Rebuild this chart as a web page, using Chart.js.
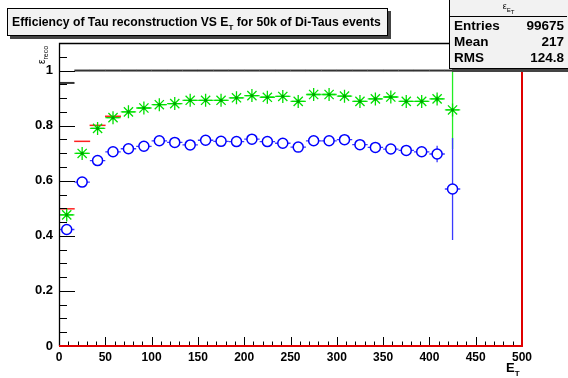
<!DOCTYPE html>
<html><head><meta charset="utf-8">
<script src="https://cdn.jsdelivr.net/npm/chart.js@4.4.1/dist/chart.umd.min.js"></script>
<style>
html,body{margin:0;padding:0;background:#fff;}
#wrap{position:relative;width:568px;height:378px;overflow:hidden;font-family:"Liberation Sans",Arial,sans-serif;color:#000;}
canvas{position:absolute;left:0;top:0;}
.box{position:absolute;border:1px solid #000;background:#f2f2f2;box-shadow:3px 3px 0 #444;box-sizing:border-box;}
#title{left:7px;top:8px;width:381px;height:28px;font-weight:bold;font-size:12.2px;line-height:26px;padding-left:4px;white-space:nowrap;}
#title sub{font-size:8px;vertical-align:-4px;line-height:0;}
#stats{left:449px;top:-1px;width:122px;height:70px;font-weight:bold;font-size:13.5px;}
#stats .hd{position:absolute;left:0;right:3px;top:1px;height:15px;text-align:center;font-size:9px;font-weight:normal;border-bottom:1px solid #000;}
#stats .hd sub{font-size:6px;}
#stats .row{position:absolute;left:4px;right:6px;height:16px;line-height:16px;}
#stats .row span{float:right;}
#ytitle{position:absolute;left:36px;top:64px;transform-origin:0 0;transform:rotate(-90deg);font-size:10px;white-space:nowrap;}
#ytitle sub{font-size:7px;}
#xtitle{position:absolute;left:506px;top:360px;font-size:13px;font-weight:bold;white-space:nowrap;}
#xtitle sub{font-size:8px;}
</style></head>
<body>
<div id="wrap">
<canvas id="c" width="568" height="378"></canvas>
<div class="box" id="title">Efficiency of Tau reconstruction VS E<sub>T</sub> for 50k of Di-Taus events</div>
<div class="box" id="stats">
  <div class="hd">&epsilon;<sub>E<sub>T</sub></sub></div>
  <div class="row" style="top:18px">Entries<span>99675</span></div>
  <div class="row" style="top:34px">Mean<span>217</span></div>
  <div class="row" style="top:50px">RMS<span>124.8</span></div>
</div>
<div id="ytitle">&epsilon;<sub>reco</sub></div>
<div id="xtitle">E<sub>T</sub></div>
</div>
<script>
// bin centres (30 bins of width 16.67 from 0 to 500; first 26 filled)
const binCenters = [8.33,25,41.67,58.33,75,91.67,108.33,125,141.67,158.33,175,191.67,208.33,225,241.67,258.33,275,291.67,308.33,325,341.67,358.33,375,391.67,408.33,425];
const halfBin = 8.33;
const greenVals = [0.476,0.699,0.790,0.829,0.850,0.864,0.876,0.880,0.892,0.892,0.892,0.901,0.909,0.903,0.906,0.888,0.913,0.913,0.907,0.888,0.897,0.904,0.888,0.888,0.897,0.857];
const greenErr  = [0.008,0.006,0.005,0.005,0.005,0.005,0.005,0.005,0.005,0.005,0.005,0.005,0.005,0.005,0.005,0.005,0.006,0.006,0.006,0.006,0.007,0.007,0.008,0.009,0.012,0.142];
const blueVals  = [0.423,0.595,0.673,0.705,0.716,0.725,0.745,0.739,0.730,0.747,0.743,0.742,0.751,0.742,0.736,0.722,0.745,0.745,0.749,0.731,0.721,0.715,0.710,0.705,0.697,0.570];
const blueErr   = [0.010,0.008,0.007,0.007,0.007,0.007,0.007,0.007,0.007,0.007,0.007,0.007,0.007,0.007,0.008,0.008,0.008,0.008,0.009,0.009,0.010,0.011,0.012,0.015,0.030,0.185];
const redVals   = [0.498,0.743,0.801,0.834];
const blackVals = [0.955,1,1,1,1,1,1,1,1,1,1,1,1,1,1,1,1,1,1,1,1,1,1,1,1,1];
const xTickLabels = [0,50,100,150,200,250,300,350,400,450,500];
const yTickLabels = [0,0.2,0.4,0.6,0.8,1];

const pts = vals => vals.map((v,i)=>({x:binCenters[i],y:v}));

const errPlugin = {
  id:'errbars',
  beforeDatasetsDraw(chart){
    const {ctx, scales:{x,y}} = chart;
    const draw = (vals, errs, color) => {
      ctx.save(); ctx.strokeStyle=color; ctx.lineWidth=1.3;
      vals.forEach((v,i)=>{
        const cx = x.getPixelForValue(binCenters[i]);
        const cy = y.getPixelForValue(v);
        ctx.beginPath();
        ctx.moveTo(x.getPixelForValue(binCenters[i]-halfBin), cy);
        ctx.lineTo(x.getPixelForValue(binCenters[i]+halfBin), cy);
        ctx.moveTo(cx, y.getPixelForValue(v-errs[i]));
        ctx.lineTo(cx, y.getPixelForValue(v+errs[i]));
        ctx.stroke();
      });
      ctx.restore();
    };
    draw(greenVals, greenErr, '#22ee22');
    draw(blueVals, blueErr, '#3a3aff');
  },
  afterDatasetsDraw(chart){
    // dark centre dot of the star markers
    const {ctx, scales:{x,y}} = chart;
    ctx.save(); ctx.fillStyle='#00a000';
    greenVals.forEach((v,i)=>{
      ctx.beginPath();
      ctx.arc(x.getPixelForValue(binCenters[i]), y.getPixelForValue(v), 1.6, 0, Math.PI*2);
      ctx.fill();
    });
    ctx.restore();
  }
};

const framePlugin = {
  id:'frame',
  afterDraw(chart){
    const {ctx, chartArea:a, scales:{x,y}} = chart;
    ctx.save();
    ctx.strokeStyle='#000'; ctx.lineWidth=1;
    ctx.beginPath();
    for(let v=0; v<=1.1001; v+=0.05){
      const py = Math.round(y.getPixelForValue(v))+0.5;
      const major = Math.abs(v/0.2 - Math.round(v/0.2))<1e-6;
      ctx.moveTo(a.left, py); ctx.lineTo(a.left + (major?16:8), py);
    }
    for(let v=0; v<=500.01; v+=10){
      const px = Math.round(x.getPixelForValue(v))+0.5;
      const major = v%50===0;
      ctx.moveTo(px, a.bottom); ctx.lineTo(px, a.bottom - (major?9:4.5));
    }
    ctx.stroke();
    ctx.lineWidth=1.3;
    ctx.beginPath();
    ctx.moveTo(a.left+0.5, a.bottom); ctx.lineTo(a.left+0.5, a.top+0.5); ctx.lineTo(a.right, a.top+0.5);
    ctx.stroke();
    ctx.strokeStyle='#e00000'; ctx.lineWidth=2;
    ctx.beginPath();
    ctx.moveTo(a.left, a.bottom); ctx.lineTo(a.right, a.bottom); ctx.lineTo(a.right, a.top);
    ctx.stroke();
    ctx.restore();
  }
};

const tickFont = {family:'"Liberation Sans", Arial, sans-serif', weight:'bold'};

new Chart(document.getElementById('c'), {
  type:'scatter',
  data:{datasets:[
    {label:'blue', data:pts(blueVals), pointStyle:'circle', radius:5, borderColor:'#0000ff', backgroundColor:'#ffffff', borderWidth:1.5, order:1},
    {label:'green', data:pts(greenVals), pointStyle:'star', radius:6.5, borderColor:'#00e000', backgroundColor:'#00e000', borderWidth:1.3, order:2},
    {label:'red', data:pts(redVals), pointStyle:'line', radius:8, borderColor:'#ff2020', borderWidth:1.5, order:3},
    {label:'black', data:pts(blackVals), pointStyle:'line', radius:7.8, borderColor:'#333333', borderWidth:2, order:4}
  ]},
  options:{
    responsive:false, animation:false, events:[],
    layout:{padding:{left:0,right:46,top:43,bottom:0}},
    plugins:{legend:{display:false}, tooltip:{enabled:false}},
    scales:{
      x:{type:'linear', min:0, max:500, afterFit(s){s.height=32;},
         grid:{display:false, drawTicks:false}, border:{display:false},
         afterBuildTicks(s){ s.ticks = xTickLabels.map(v=>({value:v})); },
         ticks:{padding:4, color:'#000', maxRotation:0, autoSkip:false, font:{...tickFont, size:12}, callback:v=>String(v)}},
      y:{type:'linear', min:0, max:1.1, afterFit(s){s.width=59;},
         grid:{display:false, drawTicks:false}, border:{display:false},
         afterBuildTicks(s){ s.ticks = yTickLabels.map(v=>({value:v})); },
         ticks:{padding:6, color:'#000', font:{...tickFont, size:13}, callback:v=>String(v)}}
    }
  },
  plugins:[errPlugin, framePlugin]
});
</script>
</body></html>
